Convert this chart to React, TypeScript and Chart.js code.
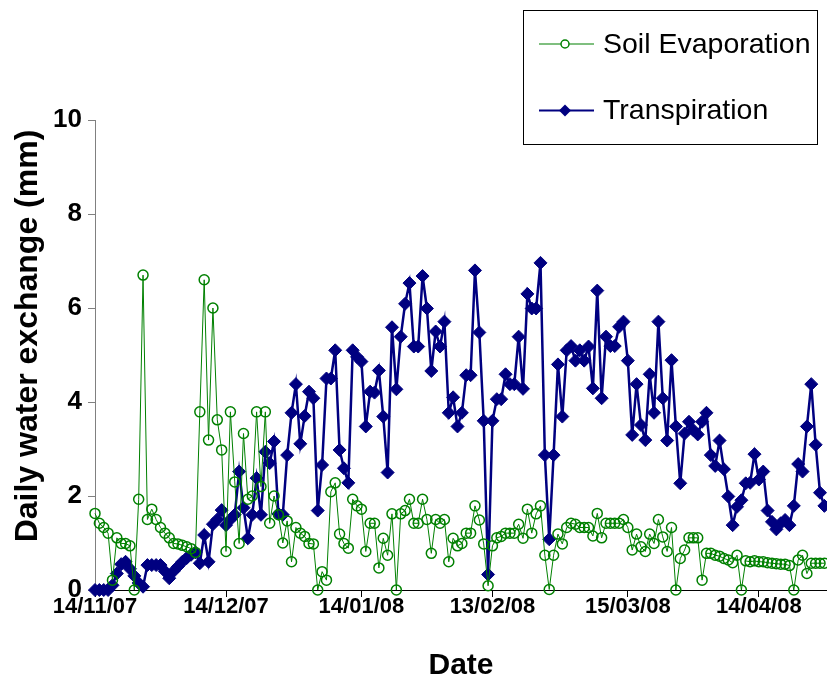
import React, { useEffect, useRef } from "react";
import { Chart, registerables } from "chart.js";

Chart.register(...registerables);

// Daily values from 14/11/07 (day 0) to 29/04/08 (day 167)
const soilEvaporation = [
  1.63, 1.42, 1.33, 1.21, 0.21, 1.11, 0.99, 0.99, 0.94, 0.0,
  1.93, 6.7, 1.5, 1.72, 1.5, 1.33, 1.21, 1.11, 0.99, 0.98,
  0.95, 0.92, 0.88, 0.8, 3.79, 6.6, 3.19, 6.0, 3.62, 2.98,
  0.82, 3.79, 2.3, 0.99, 3.33, 1.93, 2.0, 3.79, 2.2, 3.79,
  1.42, 2.0, 1.6, 1.0, 1.47, 0.6, 1.33, 1.21, 1.14, 0.99,
  0.98, 0.0, 0.39, 0.21, 2.09, 2.28, 1.19, 0.99, 0.89, 1.93,
  1.79, 1.72, 0.82, 1.42, 1.42, 0.47, 1.1, 0.74, 1.62, 0.0,
  1.62, 1.69, 1.93, 1.42, 1.42, 1.93, 1.5, 0.78, 1.5, 1.42,
  1.5, 0.6, 1.1, 0.94, 0.99, 1.21, 1.21, 1.79, 1.49, 0.98,
  0.09, 0.94, 1.11, 1.14, 1.21, 1.21, 1.21, 1.4, 1.1, 1.72,
  1.21, 1.62, 1.79, 0.74, 0.01, 0.74, 1.19, 0.98, 1.33, 1.42,
  1.4, 1.33, 1.33, 1.33, 1.15, 1.63, 1.11, 1.42, 1.42, 1.42,
  1.42, 1.5, 1.33, 0.85, 1.19, 0.92, 0.82, 1.19, 0.99, 1.5,
  1.13, 0.82, 1.33, 0.0, 0.67, 0.85, 1.11, 1.11, 1.11, 0.21,
  0.78, 0.78, 0.74, 0.72, 0.67, 0.64, 0.58, 0.74, 0.0, 0.62,
  0.6, 0.62, 0.6, 0.6, 0.58, 0.57, 0.56, 0.55, 0.55, 0.52,
  0.0, 0.64, 0.74, 0.35, 0.57, 0.57, 0.57, 0.57,
];

const transpiration = [
  0.0, 0.0, 0.0, 0.0, 0.1, 0.35, 0.55, 0.6, 0.45, 0.3,
  0.15, 0.07, 0.53, 0.53, 0.53, 0.53, 0.4, 0.25, 0.4, 0.5,
  0.6, 0.68, 0.75, 0.8, 0.57, 1.17, 0.6, 1.4, 1.5, 1.7,
  1.38, 1.5, 1.6, 2.52, 1.75, 1.1, 1.6, 2.38, 1.6, 2.94,
  2.7, 3.16, 1.62, 1.6, 2.87, 3.77, 4.38, 3.11, 3.7, 4.22,
  4.08, 1.69, 2.66, 4.5, 4.5, 5.1, 2.98, 2.59, 2.28, 5.1,
  4.96, 4.86, 3.48, 4.22, 4.2, 4.67, 3.69, 2.5, 5.59, 4.27,
  5.39, 6.09, 6.53, 5.18, 5.18, 6.68, 5.99, 4.66, 5.5, 5.18,
  5.71, 3.77, 4.1, 3.48, 3.77, 4.57, 4.57, 6.8, 5.48, 3.6,
  0.33, 3.6, 4.06, 4.06, 4.59, 4.38, 4.38, 5.39, 4.28, 6.3,
  5.99, 5.99, 6.96, 2.87, 1.08, 2.87, 4.8, 3.69, 5.1, 5.19,
  4.88, 5.1, 4.88, 5.18, 4.29, 6.37, 4.08, 5.39, 5.19, 5.19,
  5.6, 5.71, 4.88, 3.3, 4.38, 3.51, 3.19, 4.59, 3.77, 5.71,
  4.08, 3.18, 4.89, 3.48, 2.27, 3.33, 3.58, 3.4, 3.31, 3.58,
  3.77, 2.87, 2.64, 3.18, 2.57, 1.99, 1.38, 1.77, 1.91, 2.27,
  2.28, 2.89, 2.35, 2.52, 1.69, 1.45, 1.29, 1.42, 1.49, 1.38,
  1.79, 2.68, 2.52, 3.48, 4.38, 3.09, 2.07, 1.79,
];

const tickDays = [0, 30, 61, 91, 122, 152];
const tickLabels = ["14/11/07", "14/12/07", "14/01/08", "13/02/08", "15/03/08", "14/04/08"];
const yTickValues = [0, 2, 4, 6, 8, 10];
const yTitle = "Daily water exchange (mm)";
const xTitle = "Date";

const FONT = "'Liberation Sans', Arial, Helvetica, sans-serif";
const GREEN = "#008000";
const NAVY = "#000080";

const yTitlePlugin = {
  id: "yTitle",
  afterDraw(chart: any) {
    const ctx = chart.ctx;
    ctx.save();
    ctx.translate(28, 336);
    ctx.rotate(-Math.PI / 2);
    ctx.fillStyle = "#000";
    ctx.font = `bold 32px ${FONT}`;
    ctx.textAlign = "center";
    ctx.textBaseline = "middle";
    ctx.fillText(yTitle, 0, 0);
    ctx.restore();
  },
};

const legendBoxPlugin = {
  id: "legendBox",
  afterDraw(chart: any) {
    const ctx = chart.ctx;
    const box = { x: 523.5, y: 10.5, w: 294, h: 134 };
    ctx.save();
    ctx.fillStyle = "#fff";
    ctx.fillRect(box.x, box.y, box.w, box.h);
    ctx.strokeStyle = "#000";
    ctx.lineWidth = 1;
    ctx.strokeRect(box.x, box.y, box.w, box.h);
    const rows = [44, 110.5];
    chart.data.datasets.forEach((ds: any, i: number) => {
      const cy = rows[i];
      ctx.strokeStyle = ds.borderColor;
      ctx.lineWidth = ds.borderWidth === 1 ? 1.2 : 2;
      ctx.beginPath();
      ctx.moveTo(539, cy);
      ctx.lineTo(594, cy);
      ctx.stroke();
      const mx = 565;
      if (ds.pointStyle === "rectRot") {
        const r = 6;
        ctx.fillStyle = ds.pointBackgroundColor;
        ctx.beginPath();
        ctx.moveTo(mx, cy - r);
        ctx.lineTo(mx + r, cy);
        ctx.lineTo(mx, cy + r);
        ctx.lineTo(mx - r, cy);
        ctx.closePath();
        ctx.fill();
      } else {
        ctx.fillStyle = "#fff";
        ctx.strokeStyle = ds.pointBorderColor;
        ctx.lineWidth = 1.5;
        ctx.beginPath();
        ctx.arc(mx, cy, 4, 0, Math.PI * 2);
        ctx.fill();
        ctx.stroke();
      }
      ctx.fillStyle = "#000";
      ctx.font = `28.5px ${FONT}`;
      ctx.textBaseline = "middle";
      ctx.textAlign = "left";
      ctx.fillText(ds.label, 603, cy + 1);
    });
    ctx.restore();
  },
};

export default function App() {
  const canvasRef = useRef<HTMLCanvasElement | null>(null);

  useEffect(() => {
    const canvas = canvasRef.current;
    if (!canvas) return;
    const chart = new Chart(canvas, {
      type: "line",
      data: {
        datasets: [
          {
            label: "Soil Evaporation",
            data: soilEvaporation.map((y, i) => ({ x: i, y })),
            borderColor: GREEN,
            borderWidth: 1,
            pointStyle: "circle",
            pointRadius: 5,
            pointBorderWidth: 1.5,
            pointBackgroundColor: "rgba(255,255,255,0)",
            pointBorderColor: GREEN,
            tension: 0,
            clip: false,
          } as any,
          {
            label: "Transpiration",
            data: transpiration.map((y, i) => ({ x: i, y })),
            borderColor: NAVY,
            borderWidth: 2.5,
            pointStyle: "rectRot",
            pointRadius: 6.5,
            pointBorderWidth: 1,
            pointBackgroundColor: NAVY,
            pointBorderColor: NAVY,
            tension: 0,
            clip: false,
          } as any,
        ],
      },
      options: {
        responsive: false,
        animation: false,
        devicePixelRatio: 1,
        layout: { autoPadding: false, padding: { top: 120, left: 0, right: 0, bottom: 0 } },
        plugins: {
          legend: { display: false },
          tooltip: { enabled: false },
        },
        scales: {
          x: {
            type: "linear",
            min: 0,
            max: 167.6,
            afterBuildTicks: (scale: any) => {
              scale.ticks = tickDays.map((v) => ({ value: v }));
            },
            afterFit: (scale: any) => {
              scale.height = 89;
            },
            grid: {
              display: true,
              drawOnChartArea: false,
              drawTicks: true,
              tickLength: 7,
              color: "#000",
            },
            border: { display: true, color: "#000", width: 1 },
            ticks: {
              autoSkip: false,
              maxRotation: 0,
              padding: -3,
              color: "#000",
              font: { family: FONT, size: 22, weight: "bold" },
              callback: (v: any) => {
                const idx = tickDays.indexOf(Number(v));
                return idx >= 0 ? tickLabels[idx] : "";
              },
            },
            title: {
              display: true,
              text: xTitle,
              color: "#000",
              font: { family: FONT, size: 30, weight: "bold" },
              padding: { top: 0, bottom: -5 },
            },
          } as any,
          y: {
            type: "linear",
            min: 0,
            max: 10,
            afterBuildTicks: (scale: any) => {
              scale.ticks = yTickValues.map((v) => ({ value: v }));
            },
            afterFit: (scale: any) => {
              scale.width = 95;
            },
            grid: {
              display: true,
              drawOnChartArea: false,
              drawTicks: true,
              tickLength: 7,
              color: "#808080",
            },
            border: { display: true, color: "#808080", width: 1 },
            ticks: {
              padding: 6,
              color: "#000",
              font: { family: FONT, size: 26, weight: "bold" },
            },
            title: { display: false },
          } as any,
        },
      },
      plugins: [yTitlePlugin, legendBoxPlugin],
    });
    return () => chart.destroy();
  }, []);

  return (
    <div style={{ position: "fixed", left: 0, top: 0, width: 827, height: 679, background: "#fff" }}>
      <canvas ref={canvasRef} width={827} height={679} />
    </div>
  );
}
